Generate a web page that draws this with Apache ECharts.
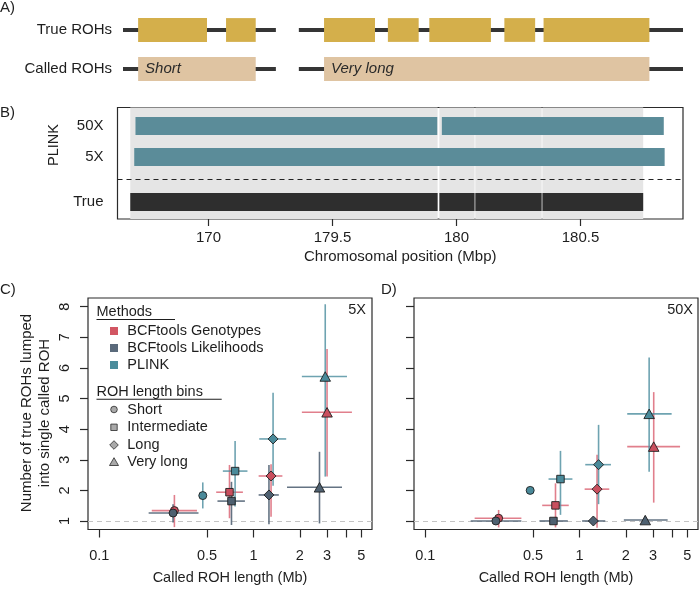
<!DOCTYPE html>
<html><head><meta charset="utf-8">
<script src="https://cdn.jsdelivr.net/npm/echarts@6/dist/echarts.min.js"></script>
<style>html,body{margin:0;padding:0;background:#fff}#c{width:700px;height:591px}</style>
</head><body><div id="c"></div>
<script>
// ---------- Panel A: schematic (arbitrary position units 0-100) ----------
const aRows = ['True ROHs', 'Called ROHs'];
const aLineSegs = [[0, 27.3], [31.4, 100]];
const aTrueRoh = [[2.7, 15.0], [18.4, 23.7], [35.9, 45.0], [47.3, 52.8], [54.7, 65.7], [68.1, 73.6], [75.1, 94.0]];
const aCalledRoh = [[2.7, 23.7], [35.9, 94.0]];
const aCalledNames = ['Short', 'Very long'];

// ---------- Panel B: PLINK calls vs true ROHs (broken position axis) ----------
const bTickValues = [0, 1, 2, 3];
const bTickLabels = ['170', '179.5', '180', '180.5'];
const bRowNames = ['True', '5X', '50X'];
const bRowPos = [0.55, 2, 3];
const bDivider = 1.27;
const bTrueSegs = [[-0.631, 1.848], [1.862, 2.146], [2.152, 2.687], [2.693, 3.506]];
const bPlink50 = [[-0.589, 1.845], [1.882, 3.672]];
const bPlink5 = [[-0.599, 3.679]];

// ---------- Panels C & D ----------
const methods = ['BCFtools Genotypes', 'BCFtools Likelihoods', 'PLINK'];
const bins = ['Short', 'Intermediate', 'Long', 'Very long'];
const cdXTickValues = [0.1, 0.5, 1, 2, 3, 4, 5];
const cdXLabelValues = [0.1, 0.5, 1, 2, 3, 5];
const cdXLabels = ['0.1', '0.5', '1', '2', '3', '5'];
const cdYTicks = [1, 2, 3, 4, 5, 6, 7, 8];
// rows per bin: [length, nROH, lengthLow, lengthHigh, nLow, nHigh]
const c5xGenotypes = [[0.307, 1.34, 0.219, 0.43, 0.80, 1.85], [0.699, 1.94, 0.573, 0.854, 1.09, 2.83], [1.30, 2.47, 1.08, 1.54, 1.14, 2.85], [3.0, 4.55, 2.06, 4.35, 2.45, 6.62]];
const c5xLikelihoods = [[0.301, 1.26, 0.209, 0.44, 0.95, 1.55], [0.72, 1.65, 0.584, 0.88, 0.87, 2.28], [1.26, 1.85, 1.08, 1.46, 0.89, 2.83], [2.68, 2.10, 1.65, 3.75, 0.92, 3.26]];
const c5xPlink = [[0.469, 1.83, 0.455, 0.485, 1.41, 2.26], [0.76, 2.63, 0.633, 0.914, 1.47, 3.61], [1.34, 3.68, 1.09, 1.63, 2.15, 5.19], [2.92, 5.72, 2.06, 4.04, 2.45, 8.08]];
const d50xGenotypes = [[0.299, 1.09, 0.209, 0.42, 0.79, 1.36], [0.699, 1.51, 0.573, 0.852, 0.79, 2.23], [1.30, 2.04, 1.08, 1.56, 0.78, 3.16], [3.03, 3.43, 2.04, 4.49, 1.6, 5.21]];
const d50xLikelihoods = [[0.287, 1.0, 0.197, 0.42, 1.0, 1.0], [0.678, 1.0, 0.55, 0.84, 1.0, 1.0], [1.23, 1.0, 1.04, 1.47, 1.0, 1.0], [2.67, 1.03, 1.94, 3.73, 1.0, 1.06]];
const d50xPlink = [[0.479, 2.0, 0.479, 0.479, 2.0, 2.0], [0.753, 2.37, 0.63, 0.90, 1.2, 3.29], [1.33, 2.84, 1.09, 1.60, 1.55, 4.14], [2.83, 4.5, 2.04, 3.96, 2.61, 6.34]];

// ---------- styles ----------
const FONT = 'Liberation Sans';
const INK = '#1e1e1e';
const methodColors = ['#C94F5E', '#4E6070', '#4A8A9A'];
const methodLegendColors = ['#D25663', '#5A6A7B', '#4A8C9B'];
const errColors = ['rgba(214,78,96,0.72)', 'rgba(78,96,114,0.88)', 'rgba(74,140,158,0.8)'];
const binSymbols = ['circle', 'rect', 'diamond', 'triangle'];
const binSizes = [8, 7.5, 10, [10.5, 9.5]];

function nearest(values, labels, log) {
  return function (v) {
    let bi = 0, bd = Infinity;
    values.forEach(function (t, i) {
      const d = log ? Math.abs(Math.log(t) - Math.log(v)) : Math.abs(t - v);
      if (d < bd) { bd = d; bi = i; }
    });
    return labels[bi];
  };
}

function segRows(segs, row) { return segs.map(function (s) { return [s[0], s[1], row]; }); }

// Panel A render functions
function aLineItem(params, api) {
  const a = api.coord([api.value(0), api.value(2)]);
  const b = api.coord([api.value(1), api.value(2)]);
  return { type: 'line', shape: { x1: a[0], y1: a[1], x2: b[0], y2: b[1] }, style: { stroke: '#353535', lineWidth: 4 } };
}
function aBoxItem(params, api) {
  const a = api.coord([api.value(0), api.value(2)]);
  const b = api.coord([api.value(1), api.value(2)]);
  const h = api.size([0, 1])[1] * 0.61;
  const children = [{ type: 'rect', shape: { x: a[0], y: a[1] - h / 2, width: b[0] - a[0], height: h }, style: { fill: api.visual('color') } }];
  const name = api.value(3);
  if (name && typeof name === 'string') {
    children.push({ type: 'text', x: a[0] + 7, y: a[1], style: { text: name, fontFamily: FONT, fontSize: 15, fontStyle: 'italic', fill: '#2a2a2a', textAlign: 'left', textVerticalAlign: 'middle' } });
  }
  return { type: 'group', children: children };
}
// Panel B render functions
function bBgItem(params, api) {
  const a = api.coord([api.value(0), 0]);
  const b = api.coord([api.value(1), 0]);
  const cs = params.coordSys;
  return { type: 'rect', shape: { x: a[0], y: cs.y, width: b[0] - a[0], height: cs.height }, style: { fill: api.visual('color') } };
}
function bBarItem(params, api) {
  const a = api.coord([api.value(0), api.value(2)]);
  const b = api.coord([api.value(1), api.value(2)]);
  const h = api.size([0, 0.58])[1];
  return { type: 'rect', shape: { x: a[0], y: a[1] - h / 2, width: b[0] - a[0], height: h }, style: { fill: api.visual('color') } };
}
// Panels C/D error bars
function errItem(color) {
  return function (params, api) {
    const x = api.value(0), y = api.value(1);
    const p1 = api.coord([api.value(2), y]), p2 = api.coord([api.value(3), y]);
    const p3 = api.coord([x, api.value(4)]), p4 = api.coord([x, api.value(5)]);
    const st = { stroke: color, lineWidth: 1.6 };
    return { type: 'group', children: [
      { type: 'line', shape: { x1: p1[0], y1: p1[1], x2: p2[0], y2: p2[1] }, style: st },
      { type: 'line', shape: { x1: p3[0], y1: p3[1], x2: p4[0], y2: p4[1] }, style: st }
    ] };
  };
}

const grids = [
  { left: 123, top: 10.5, width: 560, height: 78, show: false },
  { left: 117.5, top: 107.5, width: 565.5, height: 111.5, show: true, borderColor: '#2a2a2a', borderWidth: 1.2, backgroundColor: 'transparent' },
  { left: 88, top: 298, width: 284, height: 231.5, show: true, borderColor: '#2a2a2a', borderWidth: 1.2, backgroundColor: 'transparent' },
  { left: 414, top: 298, width: 284, height: 231.5, show: true, borderColor: '#2a2a2a', borderWidth: 1.2, backgroundColor: 'transparent' }
];

function cdXAxis(gi) {
  return {
    type: 'log', logBase: 10, gridIndex: gi, min: 0.0845, max: 5.87,
    axisLine: { show: false },
    axisTick: { show: true, customValues: cdXTickValues, length: 8, lineStyle: { color: '#2a2a2a', width: 1.2 } },
    axisLabel: { show: true, customValues: cdXLabelValues, formatter: nearest(cdXLabelValues, cdXLabels, true), margin: 19, fontSize: 14.5, color: INK, fontFamily: FONT },
    splitLine: { show: false }, minorTick: { show: false },
    name: 'Called ROH length (Mb)', nameLocation: 'middle', nameGap: 41,
    nameTextStyle: { fontSize: 14.5, color: INK, fontFamily: FONT }
  };
}
function cdYAxis(gi, showLabels) {
  return {
    type: 'value', gridIndex: gi, min: 0.722, max: 8.284,
    axisLine: { show: false },
    axisTick: { show: true, customValues: cdYTicks, length: 8, lineStyle: { color: '#2a2a2a', width: 1.2 } },
    axisLabel: { show: showLabels, customValues: cdYTicks, rotate: 90, margin: 16, fontSize: 14.5, color: INK, fontFamily: FONT },
    splitLine: { show: false }
  };
}

const option = {
  animation: false,
  backgroundColor: '#ffffff',
  textStyle: { fontFamily: FONT },
  grid: grids,
  xAxis: [
    { type: 'value', gridIndex: 0, min: 0, max: 100, show: false },
    {
      type: 'value', gridIndex: 1, min: -0.734, max: 3.827,
      axisLine: { show: false },
      axisTick: { show: true, customValues: bTickValues, length: 7, lineStyle: { color: '#2a2a2a', width: 1.2 } },
      axisLabel: { customValues: bTickValues, formatter: nearest(bTickValues, bTickLabels, false), margin: 11, fontSize: 15, color: INK, fontFamily: FONT },
      splitLine: { show: false },
      name: 'Chromosomal position (Mbp)', nameLocation: 'middle', nameGap: 30,
      nameTextStyle: { fontSize: 15, color: INK, fontFamily: FONT }
    },
    cdXAxis(2), cdXAxis(3)
  ],
  yAxis: [
    { type: 'category', gridIndex: 0, data: aRows, inverse: true, axisLine: { show: false }, axisTick: { show: false }, axisLabel: { margin: 11, fontSize: 15, color: INK, fontFamily: FONT }, splitLine: { show: false } },
    {
      type: 'value', gridIndex: 1, min: 0, max: 3.6,
      axisLine: { show: false },
      axisTick: { show: true, customValues: bRowPos, length: 8, lineStyle: { color: '#2a2a2a', width: 1.2 } },
      axisLabel: { customValues: bRowPos, formatter: nearest(bRowPos, bRowNames, false), margin: 14, fontSize: 15, color: INK, fontFamily: FONT },
      splitLine: { show: false }
    },
    cdYAxis(2, true), cdYAxis(3, false)
  ],
  series: [],
  graphic: []
};

// Panel A series
option.series.push({ type: 'custom', xAxisIndex: 0, yAxisIndex: 0, renderItem: aLineItem, encode: { x: [0, 1], y: 2 },
  data: segRows(aLineSegs, 0).concat(segRows(aLineSegs, 1)), z: 1 });
option.series.push({ type: 'custom', xAxisIndex: 0, yAxisIndex: 0, renderItem: aBoxItem, encode: { x: [0, 1], y: 2 },
  itemStyle: { color: '#D4AF4B' }, data: segRows(aTrueRoh, 0), z: 2 });
option.series.push({ type: 'custom', xAxisIndex: 0, yAxisIndex: 0, renderItem: aBoxItem, encode: { x: [0, 1], y: 2 },
  itemStyle: { color: '#DFC4A2' }, data: aCalledRoh.map(function (s, i) { return [s[0], s[1], 1, aCalledNames[i]]; }), z: 2 });

// Panel B series
option.series.push({ type: 'custom', xAxisIndex: 1, yAxisIndex: 1, renderItem: bBgItem, encode: { x: [0, 1] },
  itemStyle: { color: '#E5E5E5' }, data: bTrueSegs.map(function (s) { return [s[0], s[1]]; }), z: 1,
  markLine: { silent: true, symbol: ['none', 'none'], label: { show: false }, lineStyle: { color: '#222', type: [5, 4], width: 1.2 }, data: [{ yAxis: bDivider }] } });
option.series.push({ type: 'custom', xAxisIndex: 1, yAxisIndex: 1, renderItem: bBarItem, encode: { x: [0, 1], y: 2 },
  itemStyle: { color: '#5B8C99' }, data: segRows(bPlink50, bRowPos[2]).concat(segRows(bPlink5, bRowPos[1])), z: 2 });
option.series.push({ type: 'custom', xAxisIndex: 1, yAxisIndex: 1, renderItem: bBarItem, encode: { x: [0, 1], y: 2 },
  itemStyle: { color: '#2E2E2E' }, data: segRows(bTrueSegs, bRowPos[0]), z: 2 });

// Panels C & D series
const panels = [
  { axis: 2, sets: [c5xGenotypes, c5xLikelihoods, c5xPlink] },
  { axis: 3, sets: [d50xGenotypes, d50xLikelihoods, d50xPlink] }
];
panels.forEach(function (p) {
  p.sets.forEach(function (rows, m) {
    const s = { type: 'custom', name: methods[m], xAxisIndex: p.axis, yAxisIndex: p.axis, renderItem: errItem(errColors[m]),
      encode: { x: [0, 2, 3], y: [1, 4, 5] }, data: rows, z: 2 };
    if (m === 0) {
      s.markLine = { silent: true, symbol: ['none', 'none'], label: { show: false }, lineStyle: { color: '#C4C4C4', type: [5, 4], width: 1.2 }, data: [{ yAxis: 1 }], z: 1 };
    }
    option.series.push(s);
  });
  p.sets.forEach(function (rows, m) {
    option.series.push({ type: 'scatter', name: methods[m], xAxisIndex: p.axis, yAxisIndex: p.axis, z: 3,
      itemStyle: { color: methodColors[m], borderColor: '#1e1e1e', borderWidth: 0.9, opacity: 1 },
      data: rows.map(function (r, b) { return { value: [r[0], r[1]], symbol: binSymbols[b], symbolSize: binSizes[b] }; }) });
  });
});

// Graphic texts: panel letters, legend, axis titles
const g = option.graphic;
function txt(x, y, text, opt) {
  opt = opt || {};
  g.push({ type: 'text', x: x, y: y, rotation: opt.rotation || 0, silent: true, z: 100,
    style: { text: text, fontFamily: FONT, fontSize: opt.size || 15, fill: INK, textAlign: opt.align || 'left', textVerticalAlign: 'middle', lineHeight: opt.lineHeight || undefined } });
}
txt(0, 8, 'A)');
txt(0, 113, 'B)');
txt(0, 290, 'C)');
txt(381, 290, 'D)');
txt(54, 145, 'PLINK', { rotation: Math.PI / 2, align: 'center', size: 14.5 });
txt(36, 413, 'Number of true ROHs lumped\ninto single called ROH', { rotation: Math.PI / 2, align: 'center', size: 15, lineHeight: 18 });
txt(366, 310, '5X', { align: 'right', size: 14.5 });
txt(693, 310, '50X', { align: 'right', size: 14.5 });

// Legend (panel C)
txt(96.5, 312.3, 'Methods', { size: 14.5 });
g.push({ type: 'line', silent: true, z: 100, shape: { x1: 96.5, y1: 319.5, x2: 175, y2: 319.5 }, style: { stroke: '#1e1e1e', lineWidth: 1.1 } });
const legMethodY = [331, 348, 365];
methods.forEach(function (m, i) {
  g.push({ type: 'rect', silent: true, z: 100, shape: { x: 110, y: legMethodY[i] - 4, width: 8, height: 8 }, style: { fill: methodLegendColors[i] } });
  txt(127.3, legMethodY[i], m, { size: 14.5 });
});
txt(96.5, 391.7, 'ROH length bins', { size: 14.5 });
g.push({ type: 'line', silent: true, z: 100, shape: { x1: 96.5, y1: 399.2, x2: 221.7, y2: 399.2 }, style: { stroke: '#1e1e1e', lineWidth: 1.1 } });
const legBinY = [409.5, 427.3, 445, 462];
const legSym = { fill: '#A9A9A9', stroke: '#2a2a2a', lineWidth: 0.8 };
g.push({ type: 'circle', silent: true, z: 100, shape: { cx: 114, cy: legBinY[0], r: 3.3 }, style: legSym });
g.push({ type: 'rect', silent: true, z: 100, shape: { x: 110.8, y: legBinY[1] - 3.2, width: 6.4, height: 6.4 }, style: legSym });
g.push({ type: 'polygon', silent: true, z: 100, shape: { points: [[114, legBinY[2] - 4.3], [118.3, legBinY[2]], [114, legBinY[2] + 4.3], [109.7, legBinY[2]]] }, style: legSym });
g.push({ type: 'polygon', silent: true, z: 100, shape: { points: [[114, legBinY[3] - 4.3], [118.5, legBinY[3] + 3.5], [109.5, legBinY[3] + 3.5]] }, style: legSym });
bins.forEach(function (b, i) { txt(127.3, legBinY[i], b, { size: 14.5 }); });

const chart = echarts.init(document.getElementById('c'), null, { renderer: 'canvas', width: 700, height: 591 });
chart.setOption(option);
</script>
</body></html>
